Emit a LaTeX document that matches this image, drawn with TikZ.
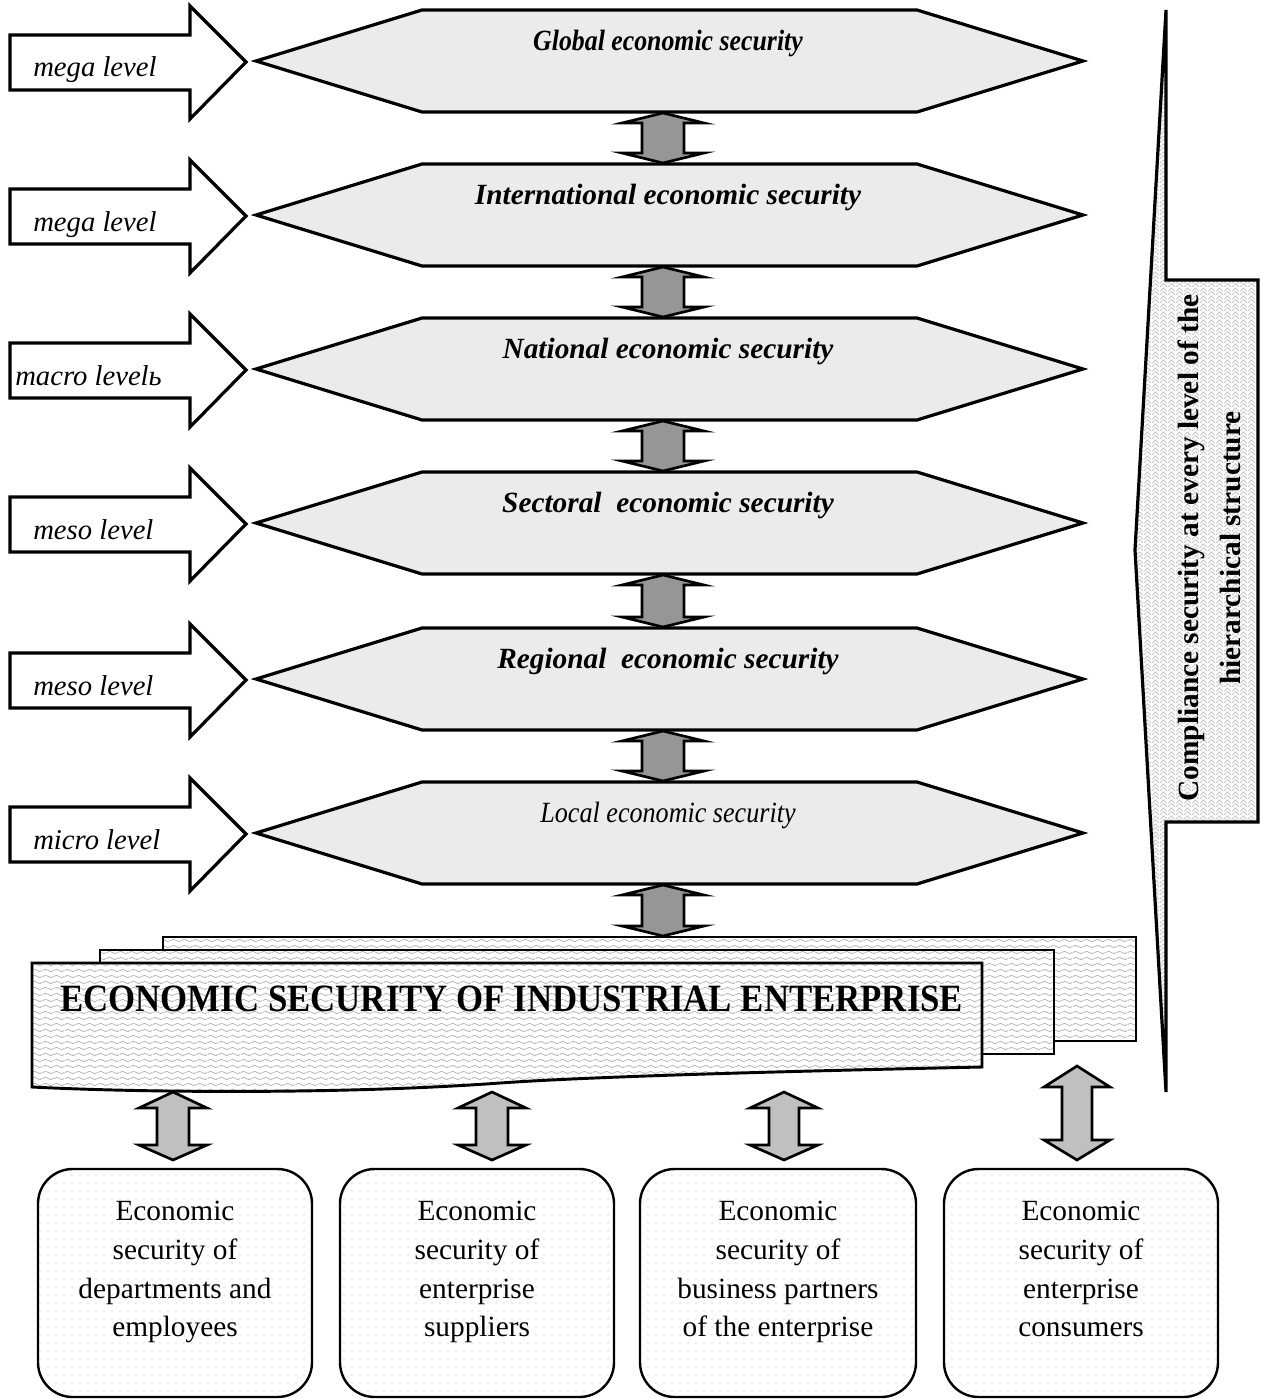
\documentclass[tikz,border=0pt]{standalone}
\usepackage{fontspec}
\setmainfont{Liberation Serif}
\usetikzlibrary{patterns}
\pgfdeclarepatternformonly{sdots}{\pgfqpoint{-1pt}{-1pt}}{\pgfqpoint{1pt}{1pt}}{\pgfqpoint{6pt}{6pt}}{\pgfpathcircle{\pgfqpoint{0pt}{0pt}}{0.55pt}\pgfusepath{fill}}
\pgfdeclarepatternformonly{swaves}{\pgfqpoint{0pt}{0pt}}{\pgfqpoint{8pt}{4.5pt}}{\pgfqpoint{8pt}{4.5pt}}{\pgfsetlinewidth{0.6pt}\pgfpathmoveto{\pgfqpoint{0pt}{2.2pt}}\pgfpathcurveto{\pgfqpoint{1.3pt}{3.6pt}}{\pgfqpoint{2.7pt}{3.6pt}}{\pgfqpoint{4pt}{2.2pt}}\pgfpathcurveto{\pgfqpoint{5.3pt}{0.8pt}}{\pgfqpoint{6.7pt}{0.8pt}}{\pgfqpoint{8pt}{2.2pt}}\pgfusepath{stroke}}
\pgfdeclarepatternformonly{szig}{\pgfqpoint{0pt}{0pt}}{\pgfqpoint{6pt}{6pt}}{\pgfqpoint{6pt}{6pt}}{\pgfsetlinewidth{0.6pt}\pgfpathmoveto{\pgfqpoint{0pt}{0pt}}\pgfpathlineto{\pgfqpoint{3pt}{3pt}}\pgfpathlineto{\pgfqpoint{6pt}{0pt}}\pgfpathmoveto{\pgfqpoint{0pt}{3pt}}\pgfpathlineto{\pgfqpoint{3pt}{6pt}}\pgfpathlineto{\pgfqpoint{6pt}{3pt}}\pgfusepath{stroke}}
\definecolor{hexfill}{RGB}{235,235,235}
\definecolor{arrdark}{RGB}{150,150,150}
\definecolor{arrlight}{RGB}{192,192,192}
\definecolor{patgray}{RGB}{178,178,178}
\tikzset{
  hexshape/.style={draw, line width=2.4pt, fill=hexfill, line join=miter},
  lvlarrow/.style={draw, line width=2.4pt, fill=white, line join=miter},
  blockarr/.style={draw, line width=2pt, line join=miter},
  docshape/.style={draw, line width=2.2pt, preaction={fill=white}, pattern=swaves, pattern color=patgray},
  sideshape/.style={draw, line width=2.4pt, preaction={fill=white}, pattern=szig, pattern color=patgray!80, line join=miter},
  leafbox/.style={draw, line width=1.8pt, rounded corners=26pt, preaction={fill=white}, pattern=sdots, pattern color=patgray},
  hextext/.style={anchor=base, inner sep=0pt},
  lvltext/.style={anchor=base west, inner sep=0pt, font=\fontsize{21.5}{24}\selectfont\itshape},
  leaftext/.style={align=center, inner sep=0pt, font=\fontsize{22}{29}\selectfont}
}
\newcommand{\dblarr}[8]{%
  \filldraw[blockarr, fill=#8] (#1,#2) -- ({#1+#6},#3) -- ({#1+#7},#3) -- ({#1+#7},#4) -- ({#1+#6},#4) -- (#1,#5) -- ({#1-#6},#4) -- ({#1-#7},#4) -- ({#1-#7},#3) -- ({#1-#6},#3) -- cycle;}
\begin{document}
\begin{tikzpicture}[x=0.75pt, y=-0.75pt]
\useasboundingbox (0,0) rectangle (1260,1399);
% hexagons and level arrows
\foreach \t in {10,164,318,472,628,782} {
  \draw[hexshape] (256,{\t+51}) -- (422,\t) -- (917,\t) -- (1083,{\t+51}) -- (917,{\t+102}) -- (422,{\t+102}) -- cycle;
  \draw[lvlarrow] (10,{\t+25}) -- (190,{\t+25}) -- (190,{\t-4}) -- (246,{\t+52}) -- (190,{\t+109}) -- (190,{\t+80}) -- (10,{\t+80}) -- cycle;
}
\node[hextext] (h1) at (668,50) {\scalebox{0.88}[1]{\fontsize{22}{24}\selectfont\bfseries\itshape Global economic security}};
\node[hextext] (h2) at (668,204) {\fontsize{22}{24}\selectfont\bfseries\itshape International economic security};
\node[hextext] (h3) at (668,358) {\fontsize{22}{24}\selectfont\bfseries\itshape National economic security};
\node[hextext] (h4) at (668,512) {\fontsize{22}{24}\selectfont\bfseries\itshape Sectoral\ \ economic security};
\node[hextext] (h5) at (668,668) {\fontsize{22}{24}\selectfont\bfseries\itshape Regional\ \ economic security};
\node[hextext] (h6) at (668,822) {\scalebox{0.89}[1]{\fontsize{22}{24}\selectfont\itshape Local economic security}};
\node[lvltext] (l1) at (33,76) {mega level};
\node[lvltext] (l2) at (33,231) {mega level};
\node[lvltext] (l3) at (15,385) {macro levelь};
\node[lvltext] (l4) at (33,539) {meso level};
\node[lvltext] (l5) at (33,695) {meso level};
\node[lvltext] (l6) at (33,849) {micro level};
% double arrows between levels
\foreach \b/\t in {112/164,266/318,420/472,574/628,730/782,884/937} {
  \dblarr{663}{\b+1}{\b+11}{\t-11}{\t-1}{41}{21}{arrdark}
}
% side compliance shape
\draw[sideshape] (1166,10) -- (1166,280) -- (1258,280) -- (1258,822) -- (1166,822) -- (1166,1092) -- (1135,550) -- cycle;
\node[rotate=90, align=center, inner sep=0pt, font=\fontsize{22}{31.5}\selectfont\bfseries] (side) at (1211,548) {\strut Compliance security at every level of the\\\strut hierarchical structure};
% document stack
\draw[docshape] (163,937) rectangle (1136,1041);
\draw[docshape] (100,950) rectangle (1054,1054);
\draw[docshape] (32,963) -- (982,963) -- (982,1067) .. controls (800,1071) and (600,1076) .. (500,1083) .. controls (350,1094) and (150,1093) .. (32,1087) -- cycle;
\node[anchor=base west, inner sep=0pt] (ent) at (60,1011) {\scalebox{0.9}[1]{\fontsize{29}{31}\selectfont\bfseries ECONOMIC SECURITY OF INDUSTRIAL ENTERPRISE}};
% bottom arrows
\dblarr{173}{1092}{1108}{1145}{1160}{34}{16}{arrlight}
\dblarr{492}{1092}{1108}{1145}{1160}{34}{16}{arrlight}
\dblarr{784}{1092}{1108}{1145}{1160}{34}{15}{arrlight}
\dblarr{1077}{1066}{1087}{1140}{1160}{33}{15}{arrlight}
% bottom boxes
\draw[leafbox] (38,1169) rectangle (312,1397);
\draw[leafbox] (340,1169) rectangle (614,1397);
\draw[leafbox] (640,1169) rectangle (916,1397);
\draw[leafbox] (944,1169) rectangle (1218,1397);
\node[leaftext] (b1) at (175,1271) {\strut Economic\\\strut security of\\\strut departments and\\\strut employees};
\node[leaftext] (b2) at (477,1271) {\strut Economic\\\strut security of\\\strut enterprise\\\strut suppliers};
\node[leaftext] (b3) at (778,1271) {\strut Economic\\\strut security of\\\strut business partners\\\strut of the enterprise};
\node[leaftext] (b4) at (1081,1271) {\strut Economic\\\strut security of\\\strut enterprise\\\strut consumers};
\end{tikzpicture}
\end{document}
